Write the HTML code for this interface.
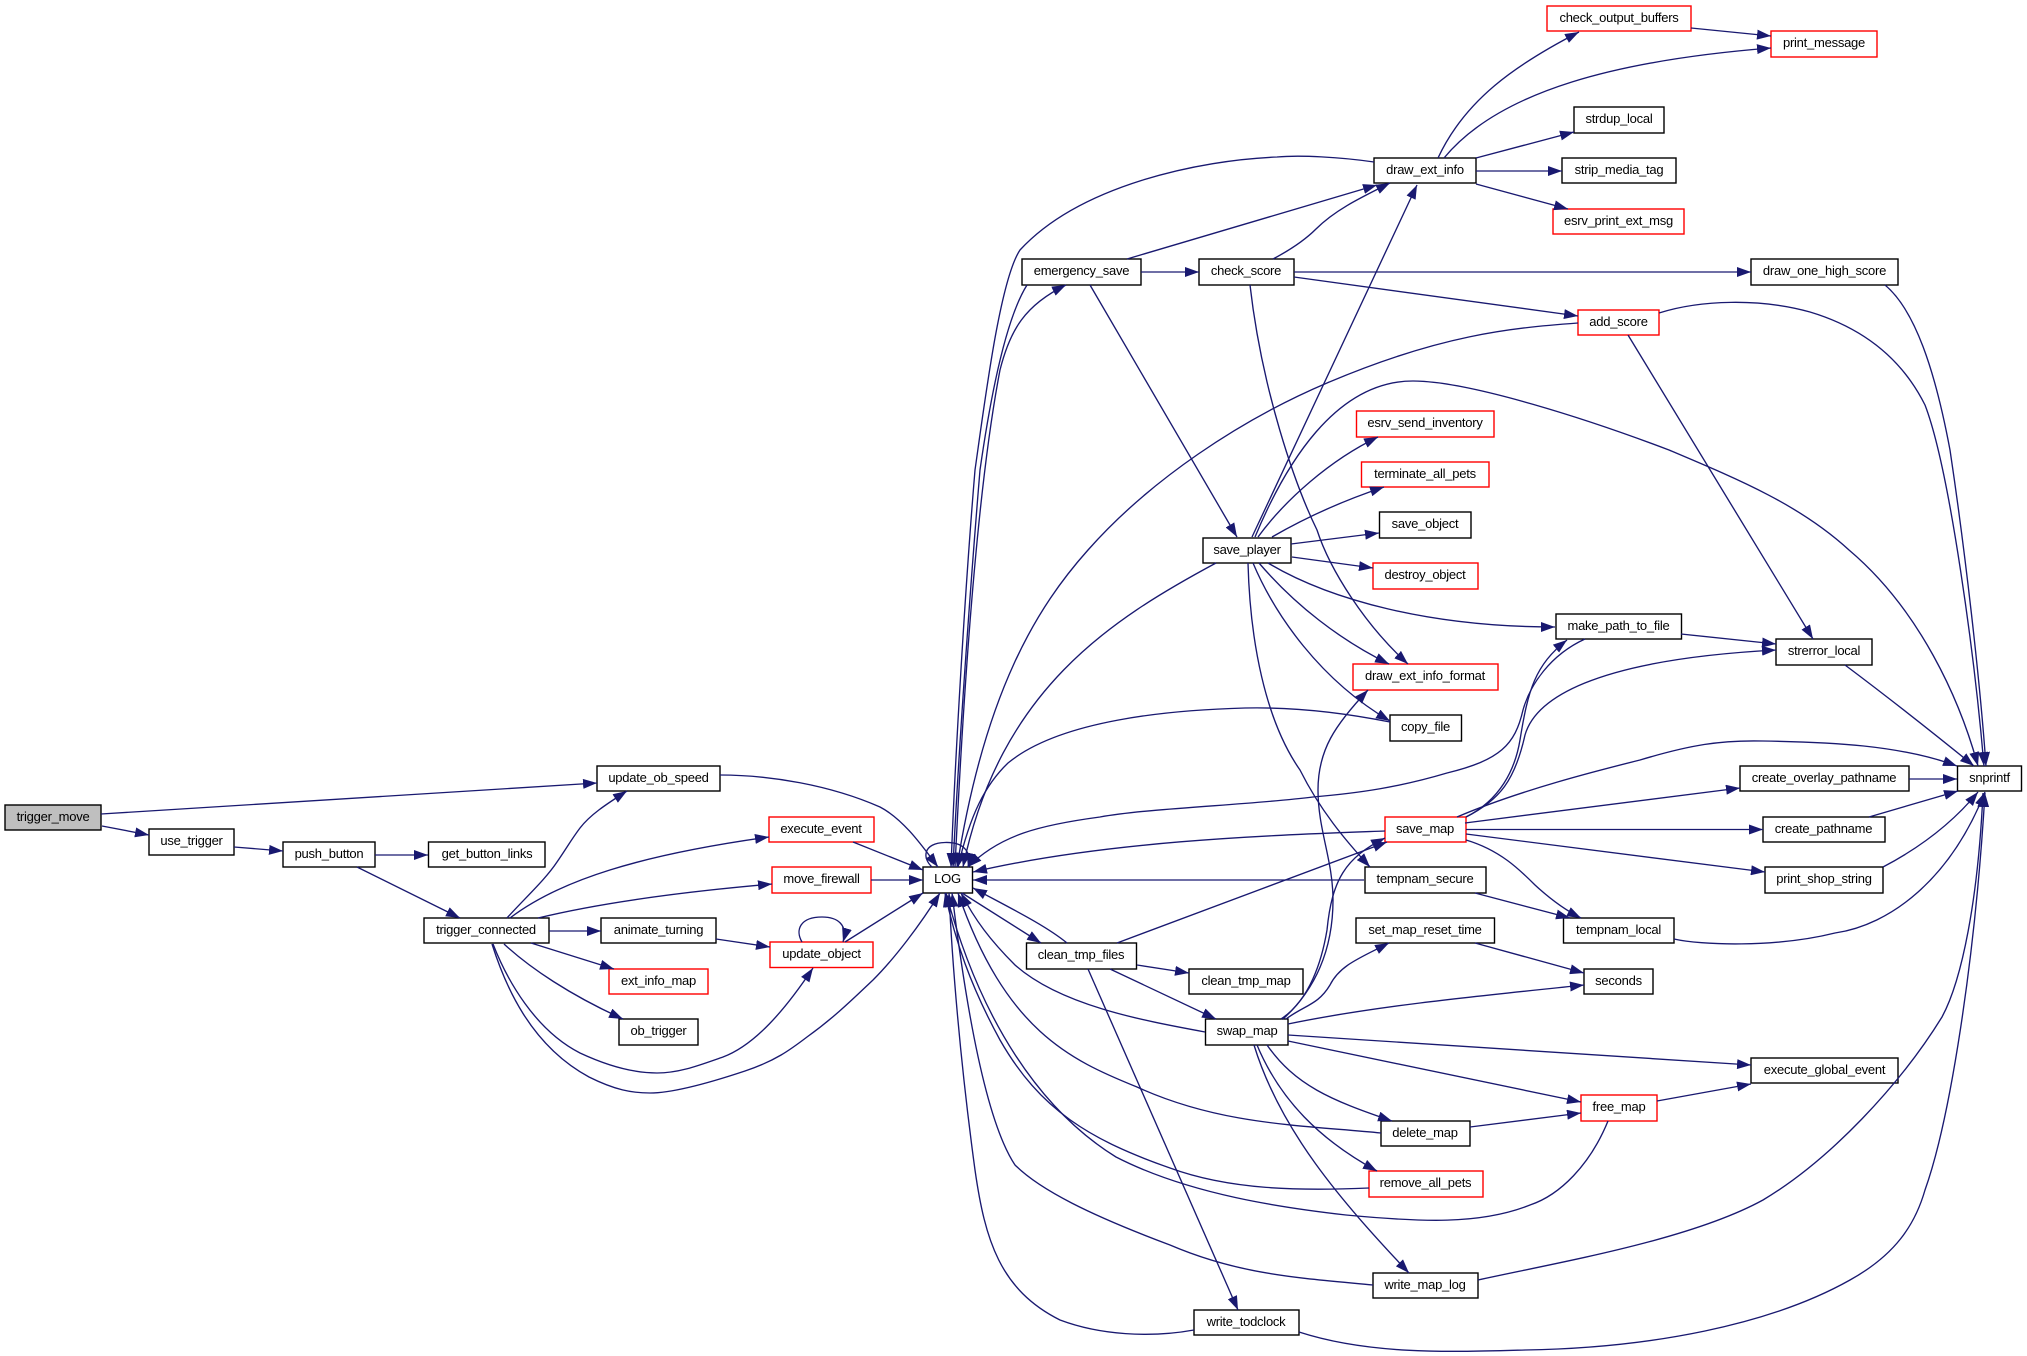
<!DOCTYPE html>
<html><head><meta charset="utf-8"><title>trigger_move call graph</title>
<style>
html,body{margin:0;padding:0;background:#fff}
svg{display:block}
rect{fill:#fff;stroke:#000;stroke-width:1.4}
rect.r{stroke:#f00}
rect.g{fill:#bfbfbf}
text{font-family:"Liberation Sans",sans-serif;font-size:13px;letter-spacing:-0.25px;text-anchor:middle;fill:#000}
path{fill:none;stroke:#191970;stroke-width:1.35;marker-end:url(#a)}
</style></head><body>
<svg xmlns="http://www.w3.org/2000/svg" width="2027" height="1356" viewBox="0 0 2027 1356">
<defs><marker id="a" markerUnits="userSpaceOnUse" markerWidth="14" markerHeight="10" viewBox="0 0 14 10" refX="14" refY="5" orient="auto"><polygon points="0,0 14,5 0,10" style="fill:#191970"/></marker></defs>

<rect class="g" x="5" y="805" width="96" height="25"/><text x="53" y="821">trigger_move</text>
<rect x="149" y="829" width="85" height="26"/><text x="191.500" y="845">use_trigger</text>
<rect x="283" y="842" width="92" height="25"/><text x="329" y="858">push_button</text>
<rect x="428.500" y="842" width="116.500" height="25"/><text x="487" y="858">get_button_links</text>
<rect x="424" y="918" width="125" height="25"/><text x="486" y="934">trigger_connected</text>
<rect x="597" y="766" width="123" height="25"/><text x="658.500" y="782">update_ob_speed</text>
<rect class="r" x="769" y="817" width="105" height="25"/><text x="821" y="833">execute_event</text>
<rect class="r" x="772" y="867" width="99" height="26"/><text x="821.500" y="883">move_firewall</text>
<rect x="601" y="918" width="115" height="25"/><text x="658.500" y="934">animate_turning</text>
<rect class="r" x="770" y="942" width="103" height="25.500"/><text x="821.500" y="958">update_object</text>
<rect class="r" x="609" y="969" width="99" height="25"/><text x="658.500" y="985">ext_info_map</text>
<rect x="619" y="1019" width="79" height="26"/><text x="658.500" y="1035">ob_trigger</text>
<rect x="923" y="867" width="49.500" height="26"/><text x="947.500" y="883">LOG</text>

<rect class="r" x="1547" y="6" width="144" height="25"/><text x="1619" y="22">check_output_buffers</text>
<rect class="r" x="1771" y="31" width="106" height="26"/><text x="1824" y="47">print_message</text>
<rect x="1574" y="107" width="90" height="26"/><text x="1619" y="123">strdup_local</text>
<rect x="1562" y="158" width="114" height="25"/><text x="1619" y="174">strip_media_tag</text>
<rect class="r" x="1553" y="209" width="131" height="25"/><text x="1618.500" y="225">esrv_print_ext_msg</text>
<rect x="1374" y="158" width="102" height="25"/><text x="1425" y="174">draw_ext_info</text>
<rect x="1022" y="259" width="119" height="26"/><text x="1081.500" y="275">emergency_save</text>
<rect x="1199" y="259" width="95" height="26"/><text x="1246" y="275">check_score</text>
<rect x="1751" y="259" width="147" height="26"/><text x="1824.500" y="275">draw_one_high_score</text>
<rect class="r" x="1578" y="310" width="81" height="25"/><text x="1618.500" y="326">add_score</text>
<rect class="r" x="1356.500" y="411" width="137.500" height="26"/><text x="1425" y="427">esrv_send_inventory</text>
<rect class="r" x="1361.500" y="462" width="127.500" height="25"/><text x="1425" y="478">terminate_all_pets</text>
<rect x="1379.500" y="512" width="91.500" height="26"/><text x="1425" y="528">save_object</text>
<rect x="1203" y="538" width="88" height="25"/><text x="1247" y="554">save_player</text>
<rect class="r" x="1373" y="563" width="105" height="26"/><text x="1425" y="579">destroy_object</text>
<rect x="1556" y="614" width="125.500" height="25"/><text x="1618.500" y="630">make_path_to_file</text>
<rect x="1776" y="639" width="96" height="26"/><text x="1824" y="655">strerror_local</text>
<rect class="r" x="1353" y="664" width="145" height="26"/><text x="1425" y="680">draw_ext_info_format</text>
<rect x="1390" y="715" width="71.500" height="26"/><text x="1425.500" y="731">copy_file</text>
<rect x="1957.500" y="766" width="64" height="25"/><text x="1989.500" y="782">snprintf</text>
<rect x="1740" y="766" width="169" height="25"/><text x="1824" y="782">create_overlay_pathname</text>
<rect class="r" x="1385" y="817" width="81" height="25"/><text x="1425" y="833">save_map</text>
<rect x="1763" y="817" width="122" height="25"/><text x="1823.500" y="833">create_pathname</text>
<rect x="1365" y="867" width="121" height="26"/><text x="1425" y="883">tempnam_secure</text>
<rect x="1765" y="867" width="118" height="26"/><text x="1824" y="883">print_shop_string</text>
<rect x="1026.500" y="943" width="110" height="26"/><text x="1081" y="959">clean_tmp_files</text>
<rect x="1356" y="918" width="138.500" height="25"/><text x="1425" y="934">set_map_reset_time</text>
<rect x="1563.500" y="918" width="110.500" height="25"/><text x="1618.500" y="934">tempnam_local</text>
<rect x="1189" y="969" width="114" height="25"/><text x="1246" y="985">clean_tmp_map</text>
<rect x="1584" y="969" width="69" height="25"/><text x="1618.500" y="985">seconds</text>
<rect x="1205.500" y="1019" width="82.500" height="26"/><text x="1247" y="1035">swap_map</text>
<rect x="1751" y="1058" width="147" height="25"/><text x="1824.500" y="1074">execute_global_event</text>
<rect class="r" x="1581" y="1095" width="76" height="26"/><text x="1619" y="1111">free_map</text>
<rect x="1381" y="1121" width="89" height="25"/><text x="1425" y="1137">delete_map</text>
<rect class="r" x="1369" y="1171" width="114" height="26"/><text x="1425.500" y="1187">remove_all_pets</text>
<rect x="1373" y="1273" width="105" height="25"/><text x="1425" y="1289">write_map_log</text>
<rect x="1194" y="1310" width="105" height="25"/><text x="1246" y="1326">write_todclock</text>

<path d="M101,814 L597,783"/>
<path d="M102,826 L149,835"/>
<path d="M234,847 L283,851"/>
<path d="M375,855 L428,855"/>
<path d="M357,867 L460,918"/>
<path d="M507,918 C525,898 545,880 557,862 C568,846 571,840 580,828 C590,815 605,805 627,791"/>
<path d="M510,918 C560,880 640,855 769,837"/>
<path d="M538,918 C600,903 680,892 772,884"/>
<path d="M549,931 L601,931"/>
<path d="M531,943 L614,969"/>
<path d="M504,944 C530,968 570,995 623,1019"/>
<path d="M493,944 C507,980 535,1030 580,1053 C610,1067 635,1073 657,1073 C680,1073 700,1065 723,1057 C755,1045 785,1010 813,968"/>
<path d="M492,944 C505,985 530,1045 589,1077 C615,1090 632,1093 650,1093 C675,1093 715,1081 745,1071 C775,1061 790,1050 807,1037 C835,1017 855,997 873,980 C895,958 920,925 940,893"/>
<path d="M720,775 C770,775 830,785 880,807 C905,820 925,850 938,867"/>
<path d="M853,842 L923,870"/>
<path d="M871,880 L923,880"/>
<path d="M716,939 L770,947"/>
<path d="M802,942 C795,930 800,917 822,917 C838,917 848,925 843,942"/>
<path d="M845,942 L923,893"/>
<path d="M932,867 C922,858 923,843 945,842.500 C962,842 972,850 968,867"/>

<path d="M1374,162 C1340,157 1300,155 1277,157 C1200,160 1080,185 1020,250 C1000,280 985,400 975,470 C965,590 955,760 951,867"/>
<path d="M1027,285 C1005,320 990,400 980,470 C970,590 958,760 953,867"/>
<path d="M955,867 C962,720 975,500 1000,370 C1010,330 1025,305 1066,285"/>
<path d="M1127,259 L1377,185"/>
<path d="M1141,272 L1199,272"/>
<path d="M1090,285 L1237,537"/>
<path d="M1273,259 C1290,250 1305,240 1316,229 C1335,210 1360,198 1390,183"/>
<path d="M1294,272 L1751,272"/>
<path d="M1294,277 L1578,316"/>
<path d="M1250,285 C1262,390 1295,485 1317,530 C1330,570 1365,625 1408,664"/>
<path d="M1885,285 C1915,310 1935,370 1950,450 C1965,550 1980,680 1986,766"/>
<path d="M1659,313 C1700,300 1760,298 1810,312 C1870,330 1905,365 1925,405 C1950,470 1975,660 1984,766"/>
<path d="M1578,323 C1510,328 1440,335 1327,383 C1240,420 1150,480 1088,550 C1038,606 985,690 957,867"/>
<path d="M1628,335 L1813,639"/>
<path d="M1438,158 C1465,100 1515,65 1579,32"/>
<path d="M1444,158 C1500,90 1620,60 1771,48"/>
<path d="M1691,28 L1771,36"/>
<path d="M1476,158 L1574,132"/>
<path d="M1476,171 L1562,171"/>
<path d="M1476,184 L1568,209"/>

<path d="M1252,537 L1417,185"/>
<path d="M1255,537 C1285,465 1335,381 1413,381 C1470,381 1590,420 1669,450 C1740,480 1800,505 1849,550 C1920,610 1960,700 1978,766"/>
<path d="M1258,537 C1285,500 1330,460 1378,437"/>
<path d="M1272,537 C1310,515 1345,500 1384,487"/>
<path d="M1291,544 L1379,533"/>
<path d="M1292,557 L1373,568"/>
<path d="M1268,563 C1330,600 1430,627 1555,627"/>
<path d="M1259,563 C1295,605 1340,640 1389,664"/>
<path d="M1253,563 C1275,615 1320,680 1390,721"/>
<path d="M1248,563 C1250,640 1265,720 1300,770 C1320,810 1345,840 1370,867"/>
<path d="M1216,563 C1110,620 1000,690 963,867"/>
<path d="M1681,634 L1776,644"/>
<path d="M1585,639 C1550,655 1530,685 1523,710 C1515,745 1500,760 1447,773 C1400,787 1360,793 1313,797 C1250,805 1150,808 1100,817 C1040,825 1000,835 968,867"/>
<path d="M1385,831 C1280,835 1110,840 973,872"/>
<path d="M1364,880 L973,880"/>
<path d="M1390,722 C1340,712 1290,707 1245,708 C1170,710 1060,720 1008,763 C985,785 970,815 958,867"/>
<path d="M1845,665 Q1905,710 1974,766"/>
<path d="M1466,817 C1500,800 1515,780 1525,735 C1535,700 1590,660 1776,650"/>
<path d="M1466,817 C1500,800 1515,770 1520,740 C1528,690 1535,665 1567,640"/>
<path d="M1457,817 C1520,790 1600,770 1640,760 C1690,745 1720,740 1763,741 C1830,742 1900,745 1957,766"/>
<path d="M1465,823 L1740,788"/>
<path d="M1466,829.500 L1763,829.500"/>
<path d="M1466,834 L1765,872"/>
<path d="M1466,840 C1500,850 1520,870 1535,885 C1548,897 1565,910 1581,918"/>
<path d="M1475,893 L1570,918"/>
<path d="M1909,779 L1957,779"/>
<path d="M1869,817 L1958,791"/>
<path d="M1883,867 C1925,845 1955,820 1978,792"/>
<path d="M1674,939 C1700,945 1775,948 1835,933 C1890,925 1950,880 1985,792"/>
<path d="M1478,1280 C1560,1262 1690,1240 1763,1200 C1830,1160 1900,1085 1942,1017 C1962,980 1978,900 1983,793"/>
<path d="M1299,1332 C1370,1355 1450,1352 1525,1350 C1650,1348 1770,1325 1850,1280 C1895,1255 1915,1225 1925,1190 C1950,1120 1975,960 1985,793"/>
<path d="M1373,1285 C1300,1278 1240,1275 1170,1245 C1090,1215 1040,1190 1015,1165 C985,1120 965,1000 952,893"/>
<path d="M1194,1330 C1150,1338 1100,1335 1060,1320 C1000,1290 985,1240 975,1170 C960,1060 952,960 949,893"/>
<path d="M1088,969 L1238,1310"/>
<path d="M1608,1121 C1590,1165 1560,1195 1530,1205 C1480,1225 1420,1222 1346,1215 C1285,1208 1190,1195 1116,1157 C1040,1110 980,1020 946,893"/>
<path d="M1369,1188 C1300,1191 1230,1190 1170,1168 C1090,1140 1040,1110 1000,1040 C970,985 955,940 945,893"/>
<path d="M1381,1133 C1300,1125 1220,1125 1137,1087 C1070,1060 1005,1030 958,893"/>
<path d="M1205,1032 C1140,1020 1060,1005 1015,965 C990,940 975,920 961,893"/>
<path d="M1067,943 C1045,925 1010,908 973,888"/>
<path d="M962,893 L1041,943"/>
<path d="M1137,965 L1189,973"/>
<path d="M1110,969 L1216,1019"/>
<path d="M1117,943 L1387,842"/>
<path d="M1281,1019 C1310,1000 1322,960 1327,930 C1332,880 1345,858 1385,838"/>
<path d="M1283,1019 C1315,990 1333,950 1333,900 C1333,860 1318,830 1318,790 C1318,750 1335,725 1368,690"/>
<path d="M1286,1019 C1305,1005 1318,1005 1330,985 C1340,965 1360,958 1389,943"/>
<path d="M1475,943 L1584,973"/>
<path d="M1288,1024 C1380,1005 1490,995 1584,985"/>
<path d="M1288,1035 L1751,1065"/>
<path d="M1288,1041 L1581,1102"/>
<path d="M1657,1101 L1751,1084"/>
<path d="M1470,1127 L1581,1113"/>
<path d="M1267,1045 C1295,1085 1330,1100 1392,1121"/>
<path d="M1257,1045 C1280,1100 1320,1140 1377,1171"/>
<path d="M1254,1045 C1280,1130 1340,1200 1409,1273"/>
</svg>
</body></html>
